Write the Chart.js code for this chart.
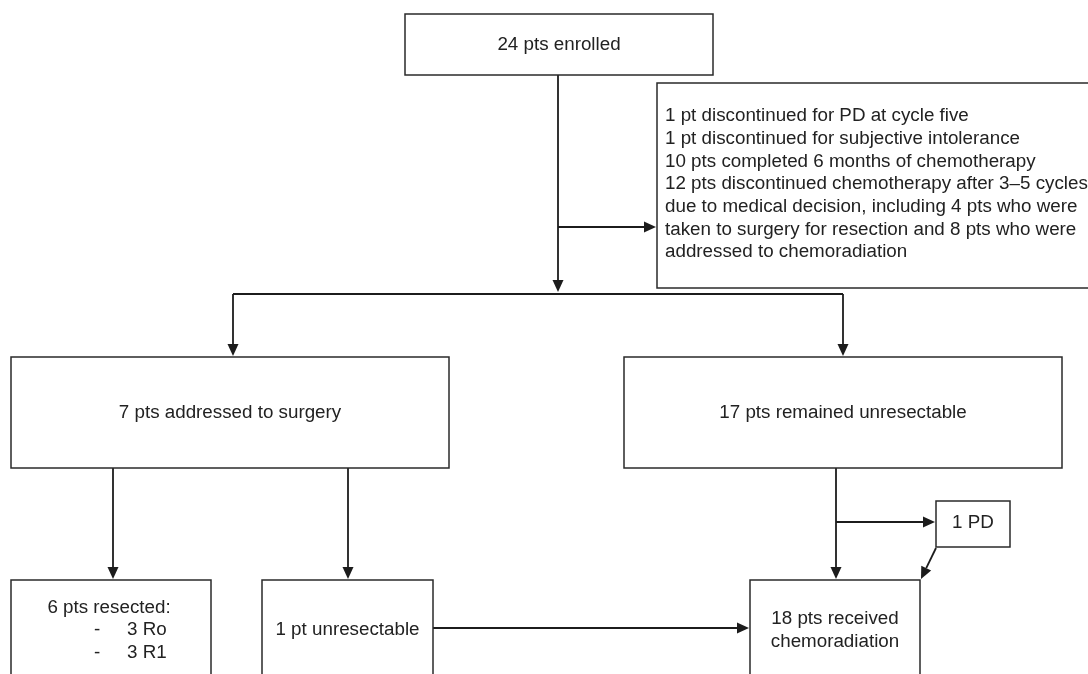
<!DOCTYPE html>
<html>
<head>
<meta charset="utf-8">
<script src="https://cdn.jsdelivr.net/npm/chart.js@4.4.0/dist/chart.umd.min.js"></script>
<style>
  html, body { margin: 0; padding: 0; background: #fff; }
  #wrap { width: 1088px; height: 674px; }
</style>
</head>
<body>
<div id="wrap"><canvas id="flow"></canvas></div>
<script>
// patient counts at each step
const enrolled = 24;
const toSurgery = 7;
const unresectable = 17;
const resected = 6;
const resectedMargins = ['3 Ro', '3 R1'];
const notResected = 1;
const progressed = 1;
const chemoradiation = 18;

const discontinuedLines = [
  '1 pt discontinued for PD at cycle five',
  '1 pt discontinued for subjective intolerance',
  '10 pts completed 6 months of chemotherapy',
  '12 pts discontinued chemotherapy after 3\u20135 cycles',
  'due to medical decision, including 4 pts who were',
  'taken to surgery for resection and 8 pts who were',
  'addressed to chemoradiation'
];

// layout (page units, same as the hidden axes)
const boxes = [
  { r: [405, 14, 713, 75],   lines: [enrolled + ' pts enrolled'], ty: 45 },
  { r: [657, 83, 1100, 288], lines: discontinuedLines, left: 665, ty: 116 },
  { r: [11, 357, 449, 468],  lines: [toSurgery + ' pts addressed to surgery'], ty: 413 },
  { r: [624, 357, 1062, 468], lines: [unresectable + ' pts remained unresectable'], ty: 413 },
  { r: [11, 580, 211, 700],  lines: [resected + ' pts resected:'], ty: 608, cx: 109 },
  { r: [262, 580, 433, 700], lines: [notResected + ' pt unresectable'], ty: 630 },
  { r: [750, 580, 920, 700], lines: [chemoradiation + ' pts received', 'chemoradiation'], ty: 619 },
  { r: [936, 501, 1010, 547], lines: [progressed + ' PD'], ty: 523 }
];

const arrows = [
  [[558, 75], [558, 292]],
  [[558, 227], [656, 227]],
  [[233, 294], [233, 356]],
  [[843, 294], [843, 356]],
  [[113, 468], [113, 579]],
  [[348, 468], [348, 579]],
  [[836, 468], [836, 579]],
  [[836, 522], [935, 522]],
  [[936, 548], [921, 579]],
  [[433, 628], [749, 628]]
];
const plainLines = [
  [[233, 294], [843, 294]]
];

const flowPlugin = {
  id: 'flow',
  afterDraw(chart) {
    const c = chart.ctx;
    const xs = chart.scales.x, ys = chart.scales.y;
    const px = v => xs.getPixelForValue(v);
    const py = v => ys.getPixelForValue(v);
    c.save();
    c.strokeStyle = '#1c1c1c';
    c.fillStyle = '#1c1c1c';
    c.lineWidth = 1.8;

    plainLines.forEach(([a, b]) => {
      c.beginPath(); c.moveTo(px(a[0]), py(a[1])); c.lineTo(px(b[0]), py(b[1])); c.stroke();
    });

    arrows.forEach(([a, b]) => {
      const x1 = px(a[0]), y1 = py(a[1]), x2 = px(b[0]), y2 = py(b[1]);
      const ang = Math.atan2(y2 - y1, x2 - x1);
      const len = 12, half = 5.5;
      const bx = x2 - len * Math.cos(ang), by = y2 - len * Math.sin(ang);
      c.beginPath(); c.moveTo(x1, y1); c.lineTo(bx, by); c.stroke();
      c.beginPath();
      c.moveTo(x2, y2);
      c.lineTo(bx + half * Math.sin(ang), by - half * Math.cos(ang));
      c.lineTo(bx - half * Math.sin(ang), by + half * Math.cos(ang));
      c.closePath(); c.fill();
    });

    c.strokeStyle = '#2a2a2a';
    c.fillStyle = '#222';
    c.lineWidth = 1.5;
    c.font = '18.8px "Liberation Sans", Arial, sans-serif';
    c.textBaseline = 'middle';
    boxes.forEach(b => {
      const [x0, y0, x1, y1] = b.r;
      c.strokeRect(px(x0), py(y0), px(x1) - px(x0), py(y1) - py(y0));
      b.lines.forEach((t, i) => {
        const y = py(b.ty + i * 22.7);
        if (b.left !== undefined) {
          c.textAlign = 'left';
          c.fillText(t, px(b.left), y);
        } else {
          c.textAlign = 'center';
          c.fillText(t, px(b.cx !== undefined ? b.cx : (x0 + x1) / 2), y);
        }
      });
    });

    // resection margin list
    resectedMargins.forEach((m, i) => {
      const y = py(630 + i * 22.7);
      c.textAlign = 'left';
      c.fillText('-', px(94), y);
      c.fillText(m, px(127), y);
    });
    c.restore();
  }
};

new Chart(document.getElementById('flow'), {
  type: 'scatter',
  data: { datasets: [{ data: [], pointRadius: 0 }] },
  options: {
    responsive: true,
    maintainAspectRatio: false,
    animation: false,
    layout: { padding: 0 },
    plugins: { legend: { display: false }, tooltip: { enabled: false } },
    scales: {
      x: { type: 'linear', min: 0, max: 1088, display: false },
      y: { type: 'linear', min: 0, max: 674, reverse: true, display: false }
    }
  },
  plugins: [flowPlugin]
});
</script>
</body>
</html>
